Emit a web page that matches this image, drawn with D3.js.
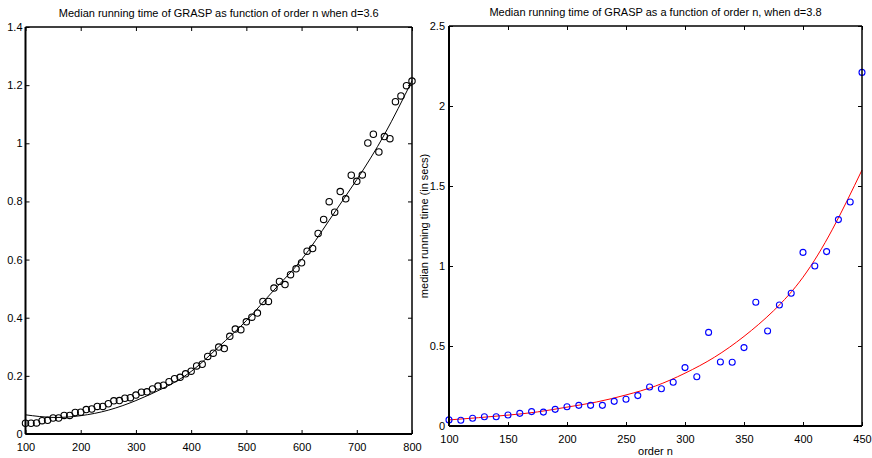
<!DOCTYPE html>
<html>
<head>
<meta charset="utf-8">
<script src="https://cdn.jsdelivr.net/npm/d3@7"></script>
<style>
  html, body { margin: 0; padding: 0; background: #fff; }
  svg { display: block; }
  text { font-family: "Liberation Sans Narrow", "Arial Narrow", "Liberation Sans", Arial, sans-serif; fill: #000; }
</style>
</head>
<body>
<svg id="chart" width="872" height="458"></svg>
<script>
// ---------- Left panel data (d = 3.6) ----------
const leftOrders = [100,110,120,130,140,150,160,170,180,190,200,210,220,230,240,250,260,270,280,290,300,310,320,330,340,350,360,370,380,390,400,410,420,430,440,450,460,470,480,490,500,510,520,530,540,550,560,570,580,590,600,610,620,630,640,650,660,670,680,690,700,710,720,730,740,750,760,770,780,790,800];
const leftTimes = [0.037,0.037,0.038,0.046,0.047,0.055,0.055,0.064,0.064,0.074,0.075,0.084,0.086,0.095,0.095,0.104,0.114,0.115,0.123,0.125,0.134,0.144,0.145,0.155,0.165,0.168,0.180,0.190,0.195,0.207,0.216,0.234,0.240,0.267,0.278,0.299,0.294,0.336,0.361,0.359,0.386,0.402,0.416,0.456,0.456,0.502,0.525,0.514,0.548,0.568,0.589,0.629,0.638,0.690,0.738,0.799,0.763,0.834,0.809,0.890,0.869,0.891,1.001,1.031,0.970,1.023,1.016,1.143,1.163,1.198,1.214];
const leftFitOrders = [100,150,200,250,300,350,400,450,500,550,600,650,700,750,800];
const leftFitTimes = [0.066,0.057,0.063,0.082,0.115,0.158,0.215,0.300,0.390,0.495,0.600,0.735,0.875,1.030,1.215];
const leftXTicks = [100,200,300,400,500,600,700,800];
const leftYTicks = [0,0.2,0.4,0.6,0.8,1,1.2,1.4];
const leftTitle = "Median running time of GRASP as function of order n when  d=3.6";

// ---------- Right panel data (d = 3.8) ----------
const rightOrders = [100,110,120,130,140,150,160,170,180,190,200,210,220,230,240,250,260,270,280,290,300,310,320,330,340,350,360,370,380,390,400,410,420,430,440,450];
const rightTimes = [0.038,0.036,0.048,0.058,0.058,0.069,0.079,0.090,0.087,0.104,0.120,0.129,0.129,0.129,0.154,0.167,0.190,0.244,0.233,0.273,0.365,0.308,0.585,0.400,0.398,0.490,0.773,0.594,0.756,0.830,1.085,1.000,1.090,1.290,1.400,2.210];
const rightFitOrders = [100,125,150,175,200,225,250,275,300,325,350,375,400,425,450];
const rightFitTimes = [0.038,0.052,0.068,0.088,0.118,0.150,0.194,0.250,0.330,0.430,0.560,0.720,0.930,1.230,1.600];
const rightXTicks = [100,150,200,250,300,350,400,450];
const rightYTicks = [0,0.5,1,1.5,2,2.5];
const rightTitle = "Median running time of GRASP as a function of order n, when d=3.8";
const rightXLabel = "order n";
const rightYLabel = "median running time (in secs)";

const svg = d3.select("#chart");

function panel(cfg) {
  const x = d3.scaleLinear().domain(cfg.xDomain).range([cfg.left, cfg.right]);
  const y = d3.scaleLinear().domain(cfg.yDomain).range([cfg.bottom, cfg.top]);
  const g = svg.append("g");
  const fmt = d => String(d);

  const bx = g.append("g").attr("transform", `translate(0,${cfg.bottom})`)
    .call(d3.axisBottom(x).tickValues(cfg.xTicks).tickSize(-4).tickPadding(9).tickFormat(fmt));
  const tx = g.append("g").attr("transform", `translate(0,${cfg.top})`)
    .call(d3.axisTop(x).tickValues(cfg.xTicks).tickSize(-4).tickFormat(""));
  const ly = g.append("g").attr("transform", `translate(${cfg.left},0)`)
    .call(d3.axisLeft(y).tickValues(cfg.yTicks).tickSize(-4).tickPadding(cfg.yPad).tickFormat(fmt));
  const ry = g.append("g").attr("transform", `translate(${cfg.right},0)`)
    .call(d3.axisRight(y).tickValues(cfg.yTicks).tickSize(-4).tickFormat(""));

  [bx, tx, ly, ry].forEach(a => {
    a.select(".domain").remove();
    a.selectAll(".tick line").attr("stroke", "#000").attr("stroke-width", 1);
    a.selectAll(".tick text").attr("font-size", 11).attr("font-family", null).style("fill", "#000");
  });

  const line = d3.line().x(d => x(d[0])).y(d => y(d[1])).curve(d3.curveNatural);
  g.append("path")
    .datum(cfg.fitX.map((v, i) => [v, cfg.fitY[i]]))
    .attr("fill", "none").attr("stroke", cfg.lineColor).attr("stroke-width", 1)
    .attr("d", line);

  g.selectAll("circle.pt").data(cfg.px.map((v, i) => [v, cfg.py[i]])).enter()
    .append("circle").attr("class", "pt")
    .attr("cx", d => x(d[0])).attr("cy", d => y(d[1]))
    .attr("r", cfg.r).attr("fill", "none")
    .attr("stroke", cfg.markerColor).attr("stroke-width", 1.1);

  g.append("line").attr("x1", cfg.left).attr("x2", cfg.right).attr("y1", cfg.top).attr("y2", cfg.top)
    .attr("stroke", "#000").attr("stroke-width", 1.5);
  g.append("line").attr("x1", cfg.right).attr("x2", cfg.right).attr("y1", cfg.top).attr("y2", cfg.bottom)
    .attr("stroke", "#000").attr("stroke-width", 1.5);
  g.append("line").attr("x1", cfg.left).attr("x2", cfg.right).attr("y1", cfg.bottom).attr("y2", cfg.bottom)
    .attr("stroke", "#000").attr("stroke-width", 2);
  g.append("line").attr("x1", cfg.left).attr("x2", cfg.left).attr("y1", cfg.top).attr("y2", cfg.bottom)
    .attr("stroke", "#000").attr("stroke-width", 2);

  g.append("text").attr("x", (cfg.left + cfg.right) / 2).attr("y", cfg.top - 10)
    .attr("text-anchor", "middle").attr("font-size", 11).text(cfg.title);

  if (cfg.xLabel) {
    g.append("text").attr("x", (cfg.left + cfg.right) / 2).attr("y", cfg.bottom + 29)
      .attr("text-anchor", "middle").attr("font-size", 11).text(cfg.xLabel);
  }
  if (cfg.yLabel) {
    g.append("text")
      .attr("transform", `translate(${cfg.left - 21},${(cfg.top + cfg.bottom) / 2}) rotate(-90)`)
      .attr("text-anchor", "middle").attr("font-size", 11).text(cfg.yLabel);
  }
}

panel({
  left: 25.5, right: 412, top: 27, bottom: 434,
  xDomain: [100, 800], yDomain: [0, 1.4],
  xTicks: leftXTicks, yTicks: leftYTicks, yPad: 3,
  px: leftOrders, py: leftTimes, fitX: leftFitOrders, fitY: leftFitTimes,
  lineColor: "#000", markerColor: "#000", r: 3.2,
  title: leftTitle
});

panel({
  left: 449, right: 862, top: 26, bottom: 426,
  xDomain: [100, 450], yDomain: [0, 2.5],
  xTicks: rightXTicks, yTicks: rightYTicks, yPad: 4,
  px: rightOrders, py: rightTimes, fitX: rightFitOrders, fitY: rightFitTimes,
  lineColor: "#ff0000", markerColor: "#0000ff", r: 3,
  title: rightTitle, xLabel: rightXLabel, yLabel: rightYLabel
});
</script>
</body>
</html>
